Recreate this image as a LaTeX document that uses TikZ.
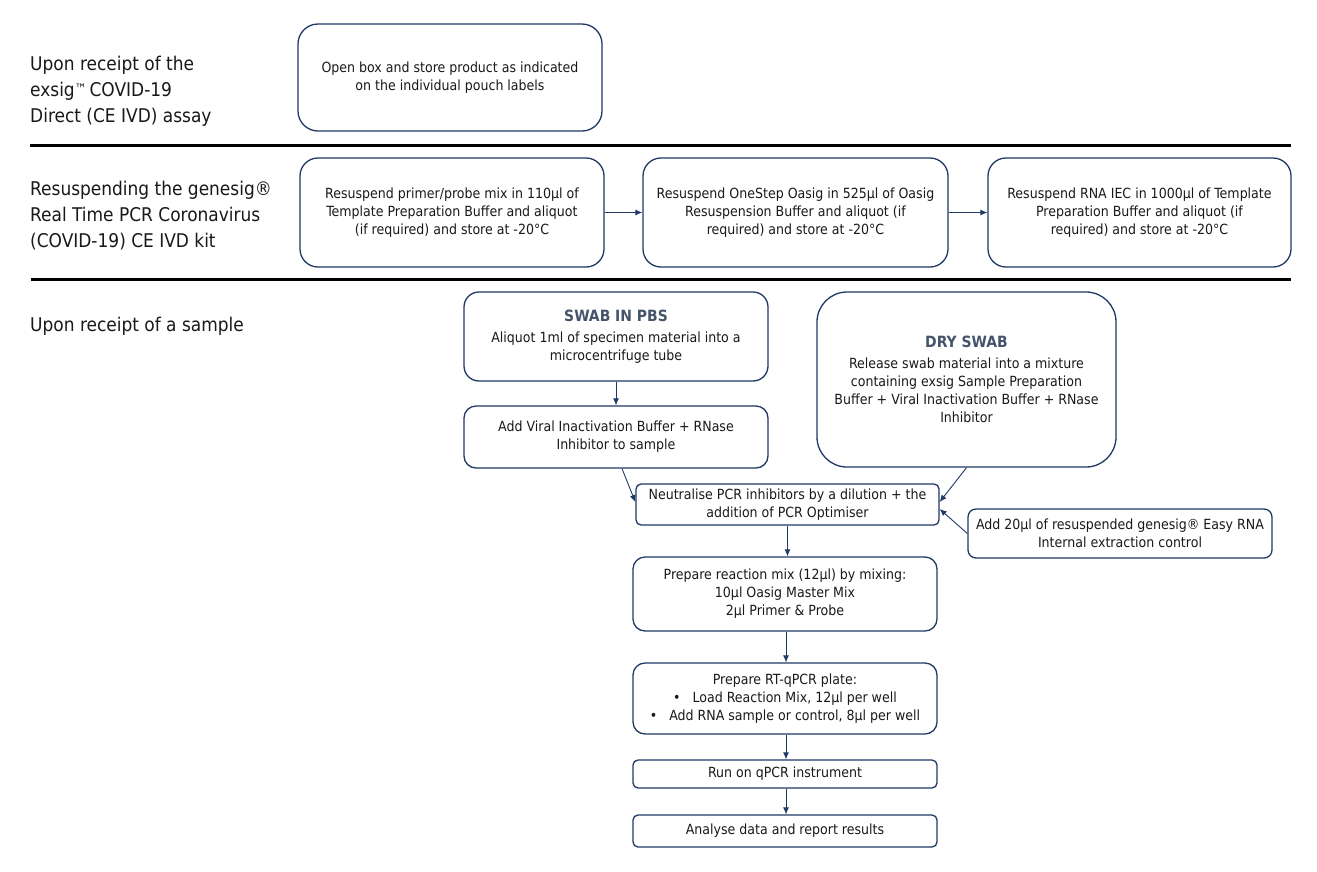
\documentclass[tikz,border=0pt]{standalone}
\usepackage{fontspec}
\setmainfont{DejaVu Sans Condensed}
\usetikzlibrary{arrows.meta}
\definecolor{navy}{RGB}{31,56,100}
\definecolor{slate}{RGB}{68,84,106}
\definecolor{ink}{RGB}{25,25,25}
\begin{document}
\begin{tikzpicture}[x=1pt,y=-1pt,
  box/.style={draw=navy, line width=1.3pt, align=center, text=ink,
    font=\fontsize{14}{18}\selectfont, inner sep=0pt},
  arr/.style={draw=navy, line width=0.9pt, -{Latex[length=7pt,width=6pt]}},
  lab/.style={anchor=west, align=left, font=\fontsize{18.9}{26}\selectfont,
    inner sep=0pt, text=ink},
  sepline/.style={line width=3pt, black}]
\useasboundingbox (0,0) rectangle (1317,871);

% left labels
\node[lab] (l1) at (30,91) {Upon receipt of the\\exsig\raisebox{3pt}{\fontsize{13}{13}\selectfont ™}\,COVID-19\\Direct (CE IVD) assay};
\node[lab] (l2) at (30,216) {Resuspending the genesig®\\Real Time PCR Coronavirus\\(COVID-19) CE IVD kit};
\node[lab] (l3) at (30,326) {Upon receipt of a sample};

% separators
\draw[sepline] (30,145) -- (1291,145);
\draw[sepline] (31,279) -- (1291,279);

% row 1
\node[box, rounded corners=20pt, minimum width=304pt, minimum height=107pt] (b1) at (450,77.5)
  {Open box and store product as indicated\\on the individual pouch labels};

% row 2
\node[box, rounded corners=18pt, minimum width=304pt, minimum height=109pt] (b2a) at (452,212.5)
  {Resuspend primer/probe mix in 110µl of\\Template Preparation Buffer and aliquot\\(if required) and store at -20°C};
\node[box, rounded corners=18pt, minimum width=305pt, minimum height=109pt] (b2b) at (795.5,212.5)
  {Resuspend OneStep Oasig in 525µl of Oasig\\Resuspension Buffer and aliquot (if\\required) and store at -20°C};
\node[box, rounded corners=18pt, minimum width=303pt, minimum height=109pt] (b2c) at (1139.5,212.5)
  {Resuspend RNA IEC in 1000µl of Template\\Preparation Buffer and aliquot (if\\required) and store at -20°C};
\draw[arr] (b2a.east) -- (b2b.west);
\draw[arr] (b2b.east) -- (b2c.west);

% row 3
\node[box, rounded corners=15pt, minimum width=304pt, minimum height=89pt] (swab) at (616,336.5)
  {\textcolor{slate}{\fontsize{15.5}{18}\selectfont\bfseries SWAB IN PBS}\\[3pt]
   Aliquot 1ml of specimen material into a\\microcentrifuge tube};
\node[box, rounded corners=12pt, minimum width=304pt, minimum height=62pt] (viral) at (616,437)
  {Add Viral Inactivation Buffer + RNase\\Inhibitor to sample};
\node[box, rounded corners=30pt, minimum width=299pt, minimum height=175pt] (dry) at (966.5,379.5)
  {\textcolor{slate}{\fontsize{15.5}{18}\selectfont\bfseries DRY SWAB}\\[3pt]
   Release swab material into a mixture\\containing exsig Sample Preparation\\Buffer + Viral Inactivation Buffer + RNase\\Inhibitor};
\node[box, rounded corners=5pt, minimum width=303pt, minimum height=41pt] (neut) at (787.5,504.5)
  {Neutralise PCR inhibitors by a dilution + the\\addition of PCR Optimiser};
\node[box, rounded corners=8pt, minimum width=304pt, minimum height=49pt] (add20) at (1120,533.5)
  {Add 20µl of resuspended genesig® Easy RNA\\Internal extraction control};
\node[box, rounded corners=12pt, minimum width=304pt, minimum height=74pt] (mix) at (785,594)
  {Prepare reaction mix (12µl) by mixing:\\10µl Oasig Master Mix\\2µl Primer \& Probe};
\node[box, rounded corners=12pt, minimum width=304pt, minimum height=71pt] (plate) at (785,698.5)
  {Prepare RT-qPCR plate:\\\textbullet\hspace{12pt}Load Reaction Mix, 12µl per well\\\textbullet\hspace{12pt}Add RNA sample or control, 8µl per well};
\node[box, rounded corners=5pt, minimum width=304pt, minimum height=28pt] (run) at (785,774)
  {Run on qPCR instrument};
\node[box, rounded corners=5pt, minimum width=304pt, minimum height=32pt] (anal) at (785,831)
  {Analyse data and report results};

\draw[arr] (swab.south) -- (viral.north);
\draw[arr] ([xshift=6pt]viral.south) -- ([yshift=2.5pt]neut.west);
\draw[arr] (dry.south) -- ([yshift=2.5pt]neut.east);
\draw[arr] (add20.west) -- ([yshift=-4.5pt]neut.east);
\draw[arr] (neut.south) -- (neut.south |- mix.north);
\draw[arr] ([xshift=1pt]mix.south) -- ([xshift=1pt]plate.north);
\draw[arr] ([xshift=1pt]plate.south) -- ([xshift=1pt]run.north);
\draw[arr] ([xshift=1pt]run.south) -- ([xshift=1pt]anal.north);
\end{tikzpicture}
\end{document}
